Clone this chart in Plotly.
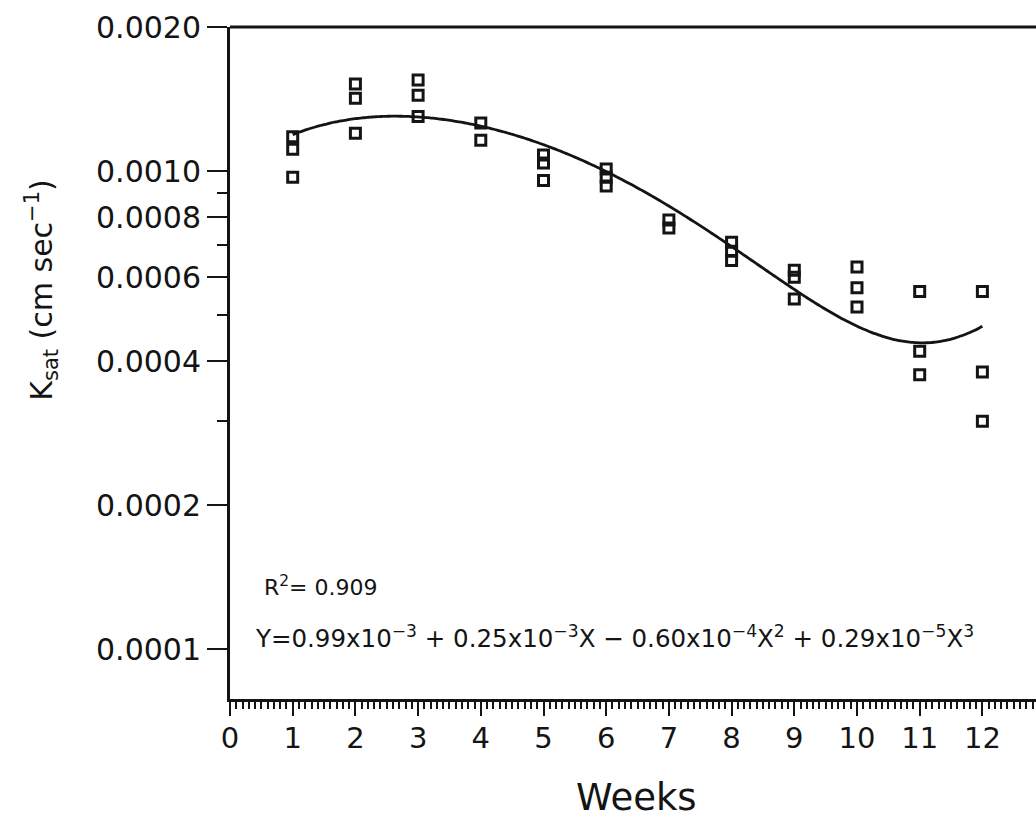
import numpy as np
import plotly.graph_objects as go

# Saturated hydraulic conductivity measured each week (three cores per week)
weeks = [1, 1, 1,
         2, 2, 2,
         3, 3, 3,
         4, 4,
         5, 5, 5,
         6, 6, 6,
         7, 7,
         8, 8, 8,
         9, 9, 9,
         10, 10, 10,
         11, 11, 11,
         12, 12, 12]
ksat = [1.18e-3, 1.11e-3, 0.97e-3,
        1.52e-3, 1.42e-3, 1.20e-3,
        1.55e-3, 1.44e-3, 1.30e-3,
        1.26e-3, 1.16e-3,
        1.08e-3, 1.04e-3, 0.955e-3,
        1.01e-3, 0.97e-3, 0.93e-3,
        0.79e-3, 0.76e-3,
        0.71e-3, 0.68e-3, 0.65e-3,
        0.62e-3, 0.60e-3, 0.54e-3,
        0.63e-3, 0.57e-3, 0.52e-3,
        0.56e-3, 0.42e-3, 0.375e-3,
        0.56e-3, 0.38e-3, 0.30e-3]

# Cubic regression: Y = b0 + b1*X + b2*X^2 + b3*X^3
coef = [0.994e-3, 0.254e-3, -0.597e-4, 0.291e-5]
r_squared = 0.909

ytick_vals = [0.0001, 0.0002, 0.0004, 0.0006, 0.0008, 0.0010, 0.0020]
ytick_text = ["0.0001", "0.0002", "0.0004", "0.0006", "0.0008", "0.0010", "0.0020"]
yminor_vals = [0.0003, 0.0005, 0.0007, 0.0009]
xtick_vals = list(range(0, 13))

INK = "#141414"
FONT = "DejaVu Sans"

xfit = np.linspace(1, 12, 200)
yfit = sum(c * xfit ** i for i, c in enumerate(coef))


def sci_term(c):
    e = int(np.floor(np.log10(abs(c)))) + 1
    m = abs(c) / 10.0 ** e
    return f"{m:.2f}x10<sup>\u2212{abs(e)}</sup>"


powers = ["", "X", "X<sup>2</sup>", "X<sup>3</sup>"]
eq = "Y=" + sci_term(coef[0])
for c, p in zip(coef[1:], powers[1:]):
    eq += (" + " if c >= 0 else " \u2212 ") + sci_term(c) + p

fig = go.Figure()
fig.add_trace(go.Scatter(
    x=xfit, y=yfit, mode="lines",
    line=dict(color=INK, width=2.8, shape="spline"),
    hoverinfo="skip", showlegend=False,
))
fig.add_trace(go.Scatter(
    x=weeks, y=ksat, mode="markers",
    marker=dict(symbol="square-open", size=10, color=INK,
                line=dict(color=INK, width=3)),
    showlegend=False,
))

fig.update_xaxes(
    range=[0, 12.855],
    tickvals=xtick_vals,
    ticks="outside", ticklen=14, tickwidth=2.2, tickcolor=INK,
    minor=dict(dtick=0.1, ticks="outside", ticklen=7, tickwidth=1.5, tickcolor=INK),
    showline=True, linecolor=INK, linewidth=3,
    showgrid=False, zeroline=False,
    tickfont=dict(family=FONT, size=29, color=INK),
    ticklabelstandoff=-3,
)
fig.update_yaxes(
    type="log",
    range=[np.log10(7.88e-5), np.log10(0.002)],
    tickvals=ytick_vals, ticktext=ytick_text,
    ticks="outside", ticklen=20, tickwidth=2.4, tickcolor=INK,
    minor=dict(tickvals=yminor_vals, ticks="outside", ticklen=10,
               tickwidth=2.2, tickcolor=INK, showgrid=False),
    showline=True, linecolor=INK, linewidth=3,
    showgrid=False, zeroline=False,
    tickfont=dict(family=FONT, size=30, color=INK),
)

# top frame line
fig.add_shape(type="line", xref="paper", yref="paper", x0=0, x1=1, y0=1, y1=1,
              line=dict(color=INK, width=3))

fig.add_annotation(
    text="K<sub>sat</sub> (cm sec<sup>\u22121</sup>)",
    xref="paper", yref="paper", x=-0.2333, y=0.609,
    xanchor="center", yanchor="middle",
    textangle=-90, showarrow=False,
    font=dict(family=FONT, size=30, color=INK),
)
fig.add_annotation(
    text="Weeks", xref="paper", yref="paper", x=0.504, y=-0.147,
    xanchor="center", yanchor="middle",
    showarrow=False, font=dict(family=FONT, size=37, color=INK),
)
fig.add_annotation(
    text=f"R<sup>2</sup>= {r_squared:.3f}", xref="paper", yref="paper",
    x=0.04, y=0.168, xanchor="left", yanchor="middle", showarrow=False,
    font=dict(family=FONT, size=22, color=INK),
)
fig.add_annotation(
    text=eq, xref="paper", yref="paper",
    x=0.028, y=0.092, xanchor="left", yanchor="middle", showarrow=False,
    font=dict(family=FONT, size=24.5, color=INK),
)

fig.update_layout(
    width=1036, height=818,
    margin=dict(l=230, r=0, t=27, b=119),
    paper_bgcolor="white", plot_bgcolor="white",
)

fig.write_html("out.html")
